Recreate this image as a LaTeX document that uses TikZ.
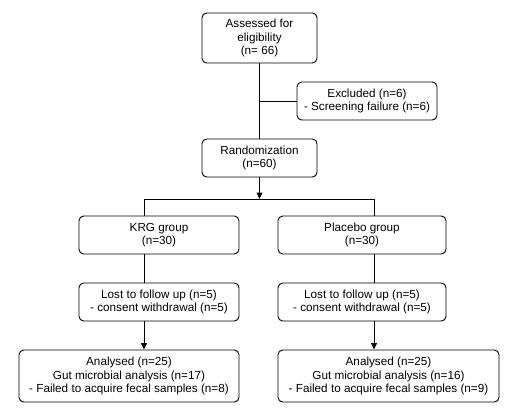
\documentclass[tikz,border=0pt]{standalone}
\usepackage{fontspec}
\setmainfont{Liberation Sans}
\usetikzlibrary{arrows.meta}
\tikzset{
    box/.style={draw, line width=0.8pt, rounded corners=4pt, align=center, inner sep=2pt, font=\fontsize{10}{11.5}\selectfont},
    flow/.style={line width=0.8pt, >={Triangle[length=5.5pt, width=5pt]}}
}

\begin{document}
\begin{tikzpicture}[flow]
        \useasboundingbox (0,0) rectangle (15.3,-12.27);
        \node[box, minimum width=3.45cm, minimum height=1.5cm] (elig) at (7.785,-1.14) {Assessed for\\eligibility\\(n= 66)};
        \node[box, minimum width=4.2cm, minimum height=1.14cm] (excl) at (11.01,-3.03) {Excluded (n=6)\\- Screening failure (n=6)};
        \node[box, minimum width=3.45cm, minimum height=1.14cm] (rand) at (7.785,-4.74) {Randomization\\(n=60)};
        \node[box, minimum width=4.8cm, minimum height=1.14cm] (krg) at (4.77,-7.05) {KRG group\\(n=30)};
        \node[box, minimum width=5.04cm, minimum height=1.14cm] (plc) at (10.86,-7.05) {Placebo group\\(n=30)};
        \node[box, minimum width=4.8cm, minimum height=1.14cm] (lostk) at (4.77,-9.06) {Lost to follow up (n=5)\\- consent withdrawal (n=5)};
        \node[box, minimum width=5.04cm, minimum height=1.14cm] (lostp) at (10.86,-9.06) {Lost to follow up (n=5)\\- consent withdrawal (n=5)};
        \node[box, minimum width=6.6cm, minimum height=1.56cm] (anak) at (3.87,-11.28) {Analysed (n=25)\\Gut microbial analysis (n=17)\\- Failed to acquire fecal samples (n=8)};
        \node[box, minimum width=6.63cm, minimum height=1.56cm] (anap) at (11.655,-11.28) {Analysed (n=25)\\Gut microbial analysis (n=16)\\- Failed to acquire fecal samples (n=9)};
        \coordinate (split) at (7.785,-5.97);
        \coordinate (sl) at (4.32,-5.97);
        \coordinate (sr) at (11.22,-5.97);

        \draw (elig) -- (rand);
        \draw (elig.south |- excl.west) -- (excl.west);
        \draw[->] (rand) -- (split);
        \draw (sl) -- (sr);
        \draw (sl) -- (sl |- krg.north);
        \draw (sr) -- (sr |- plc.north);
        \draw (sl |- krg.south) -- (sl |- lostk.north);
        \draw (sr |- plc.south) -- (sr |- lostp.north);
        \draw[->] (sl |- lostk.south) -- (sl |- anak.north);
        \draw[->] (sr |- lostp.south) -- (sr |- anap.north);
    \end{tikzpicture}
\end{document}
